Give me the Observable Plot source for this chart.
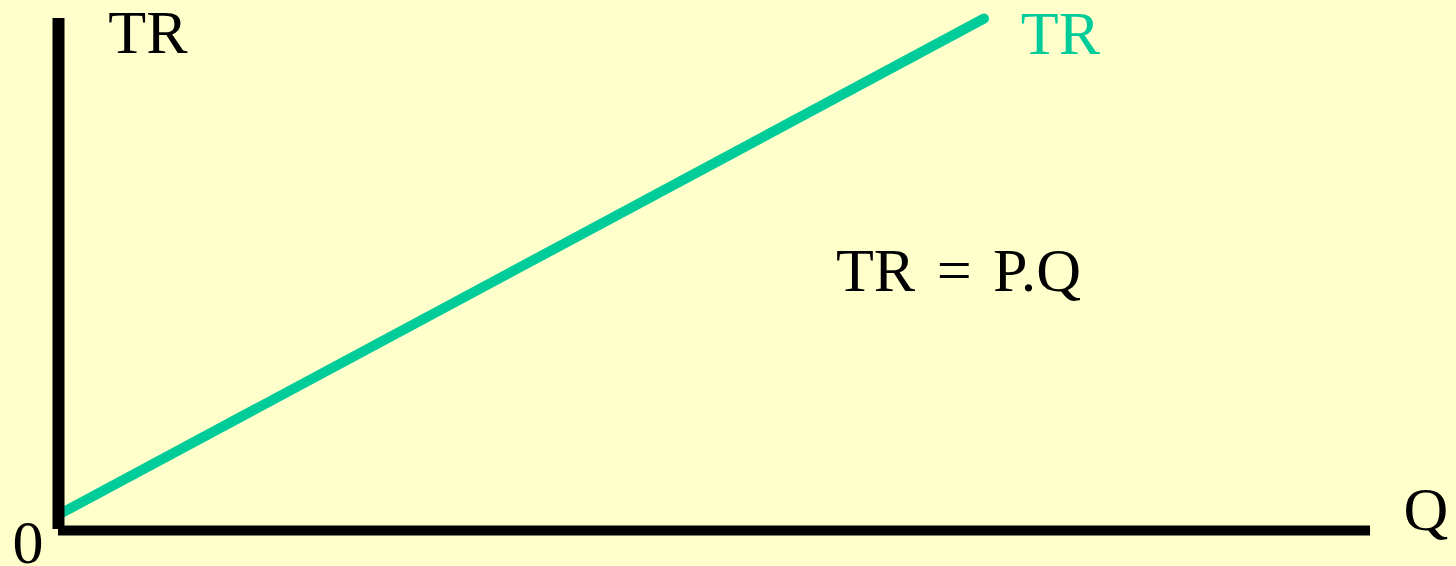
<!DOCTYPE html>
<html>
<head>
<meta charset="utf-8">
<script src="https://cdn.jsdelivr.net/npm/d3@7"></script>
<script src="https://cdn.jsdelivr.net/npm/@observablehq/plot@0.6"></script>
<style>
  html, body { margin: 0; padding: 0; background: #FFFFCC; }
</style>
</head>
<body>
<div id="chart"></div>
<script>
// Total revenue line (conceptual): quantity vs total revenue
const quantity = [0.15, 70.6];
const revenue = [3.3, 100];

// Text labels
const labelTexts = ["TR", "TR", "TR = P.Q", "Q", "0"];
const labelX = [3.8, 73.4, 59.3, 102.6, -3.5];
const labelY = [97.2, 97.0, 50.7, 3.9, -2.4];
const labelColors = ["#000000", "#00CC99", "#000000", "#000000", "#000000"];

const line = quantity.map((q, i) => ({q, tr: revenue[i]}));
const labels = labelTexts.map((t, i) => ({t, x: labelX[i], y: labelY[i], c: labelColors[i]}));

const chart = Plot.plot({
  width: 1456,
  height: 566,
  marginLeft: 58,
  marginRight: 87,
  marginTop: 18,
  marginBottom: 36,
  x: {domain: [0, 100], axis: null},
  y: {domain: [0, 100], axis: null},
  style: {background: "#FFFFCC", fontFamily: "'Liberation Serif', 'Times New Roman', serif", wordSpacing: "6px"},
  marks: [
    Plot.line(line, {x: "q", y: "tr", stroke: "#00CC99", strokeWidth: 10}),
    Plot.ruleX([0], {y1: 0.2, y2: 100, stroke: "#000", strokeWidth: 12}),
    Plot.ruleY([0], {x1: 0, x2: 100.08, stroke: "#000", strokeWidth: 10}),
    Plot.text(labels, {x: "x", y: "y", text: "t", fill: "c", fontSize: 62, textAnchor: "start", lineAnchor: "middle"})
  ]
});
document.getElementById("chart").appendChild(chart);
</script>
</body>
</html>
